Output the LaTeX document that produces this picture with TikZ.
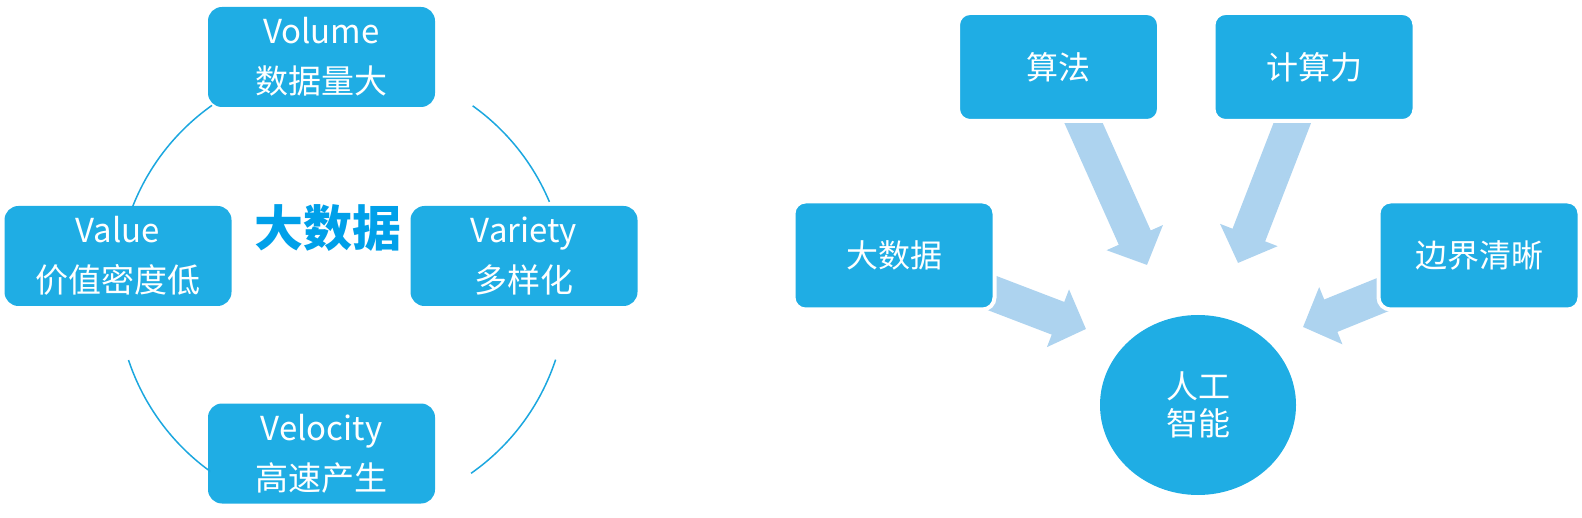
\documentclass[tikz,border=0pt]{standalone}
\usepackage{fontspec}
\setmainfont{Noto Sans CJK SC}
\usepackage{xcolor}
\usepackage{tikz}
\usetikzlibrary{shapes.geometric, arrows.meta, positioning, calc}
\pgfdeclarelayer{background}
\pgfsetlayers{background,main}
\definecolor{boxblue}{HTML}{1FADE4}
\definecolor{flowblue}{HTML}{ADD3EF}
\definecolor{titleblue}{HTML}{00A0E9}
\definecolor{ringblue}{HTML}{1BA7DF}
\tikzstyle{vbox} = [rectangle, rounded corners=14pt, minimum width=227pt, minimum height=100pt, align=center, text=white, fill=boxblue, font=\fontsize{33}{50}\selectfont]
\tikzstyle{cbox} = [rectangle, rounded corners=12pt, minimum width=201pt, minimum height=108pt, text=white, fill=boxblue, draw=white, line width=4pt, font=\fontsize{32}{38}\selectfont]
\tikzstyle{core} = [ellipse, minimum width=196pt, minimum height=180pt, inner sep=0pt, align=center, text=white, fill=boxblue, font=\fontsize{32}{37}\selectfont]
\tikzstyle{ring} = [draw=ringblue, line width=1.5pt]
\tikzstyle{flow} = [draw=flowblue, line width=35pt, -{Triangle[width=60pt,length=30pt]}]

\begin{document}
\begin{tikzpicture}[x=1pt, y=-1pt, node distance=199pt]
\useasboundingbox (0,0) rectangle (1582,518);

% 4V
\node (volume) [vbox] at (321.5,57) {Volume\\数据量大};
\node (variety) [vbox, below of=volume, xshift=202.5pt] {Variety\\多样化};
\node (value) [vbox, below of=volume, xshift=-203.5pt] {Value\\价值密度低};
\node (velocity) [vbox, below of=volume, yshift=-197.5pt] {Velocity\\高速产生};
\node (bigdata) [text=titleblue, font=\fontsize{49}{49}\selectfont\bfseries] at (328,228) {大数据};

% ring
\coordinate (hub) at (342,289);
\draw [ring] (hub) ++(-125.3:225) arc[start angle=-125.3, end angle=-158.6, radius=225];
\draw [ring] (hub) ++(-198.4:225) arc[start angle=-198.4, end angle=-234.2, radius=225];
\draw [ring] (hub) ++(18.3:225) arc[start angle=18.3, end angle=55, radius=225];
\draw [ring] (hub) ++(-22.8:225) arc[start angle=-22.8, end angle=-54.5, radius=225];

% AI
\node (ai) [core] at (1198,405) {人工\\智能};
\node (suanfa) [cbox] at (1058.5,67) {算法};
\node (jisuanli) [cbox, right of=suanfa, node distance=255.5pt] {计算力};
\node (dashuju) [cbox] at (894,255.5) {大数据};
\node (bianjie) [cbox, right of=dashuju, node distance=585pt] {边界清晰};

\coordinate (tipA) at (1147,265);
\coordinate (tipB) at (1238,263);
\coordinate (tipC) at (1086,329);
\coordinate (tipD) at (1303,327);

% Arrows
\begin{pgfonlayer}{background}
\draw [flow] (suanfa.center) -- (tipA);
\draw [flow] (jisuanli.center) -- (tipB);
\draw [flow] (dashuju.center) -- (tipC);
\draw [flow] (bianjie.center) -- (tipD);
\end{pgfonlayer}
\end{tikzpicture}
\end{document}
